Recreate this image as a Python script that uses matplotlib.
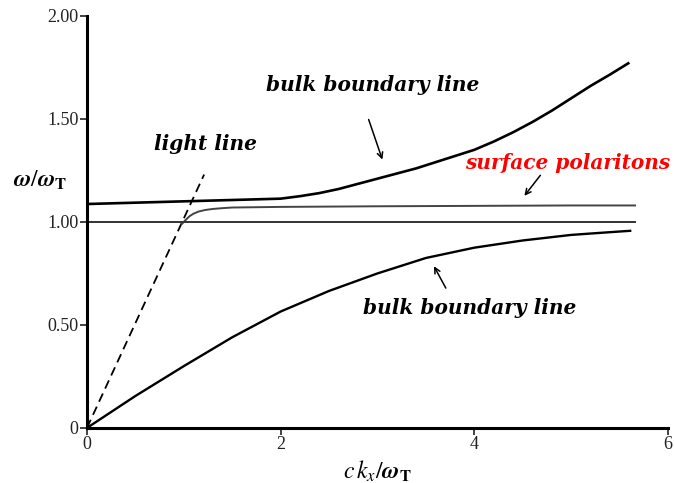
import matplotlib
matplotlib.use("Agg")
import matplotlib.pyplot as plt

plt.rcParams['mathtext.fontset'] = 'stix'
plt.rcParams['font.family'] = ['Liberation Serif', 'DejaVu Serif']

# data
light_k = [0.0, 1.21]
light_w = [0.0, 1.23]

upper_k = [0.0, 1.0, 2.0, 2.2, 2.4, 2.6, 2.8, 3.0, 3.2, 3.4, 3.6, 3.8, 4.0,
           4.2, 4.4, 4.6, 4.8, 5.0, 5.2, 5.4, 5.59]
upper_w = [1.087, 1.10, 1.113, 1.125, 1.14, 1.16, 1.185, 1.21, 1.235, 1.26, 1.29,
           1.32, 1.35, 1.39, 1.435, 1.485, 1.54, 1.60, 1.66, 1.715, 1.77]

lower_k = [0.0, 0.5, 1.0, 1.5, 2.0, 2.5, 3.0, 3.5, 4.0, 4.5, 5.0, 5.3, 5.61]
lower_w = [0.0, 0.155, 0.30, 0.44, 0.565, 0.665, 0.75, 0.825, 0.875, 0.91, 0.937, 0.947, 0.957]

surf_k = [0.98, 1.02, 1.06, 1.1, 1.15, 1.22, 1.3, 1.4, 1.5, 2.0, 3.0, 4.0, 5.0, 5.66]
surf_w = [0.99, 1.01, 1.028, 1.04, 1.05, 1.058, 1.063, 1.067, 1.07, 1.073, 1.076, 1.078, 1.08, 1.08]

wt_k = [0.0, 5.66]
wt_w = [1.0, 1.0]

x_ticks = [0, 2, 4, 6]
x_labels = ['0', '2', '4', '6']
y_ticks = [0, 0.5, 1.0, 1.5, 2.0]
y_labels = ['0', '0.50', '1.00', '1.50', '2.00']

fig = plt.figure(figsize=(6.74, 4.83), dpi=100)
ax = fig.add_axes([0.129, 0.114, 0.862, 0.853])

ax.plot(light_k, light_w, color='black', lw=1.3, ls=(0, (5, 3)))
ax.plot(upper_k, upper_w, color='black', lw=1.9)
ax.plot(lower_k, lower_w, color='black', lw=1.7)
ax.plot(surf_k, surf_w, color='#444444', lw=1.4)
ax.plot(wt_k, wt_w, color='#333333', lw=1.4)

ax.set_xlim(0, 6)
ax.set_ylim(0, 2.0)
ax.set_xticks(x_ticks)
ax.set_xticklabels(x_labels)
ax.set_yticks(y_ticks)
ax.set_yticklabels(y_labels)
ax.tick_params(labelsize=13, length=5, width=1.2, direction='out', pad=1, colors='#222222')
for s in ['top', 'right']:
    ax.spines[s].set_visible(False)
for s in ['left', 'bottom']:
    ax.spines[s].set_linewidth(2.2)

ax.set_xlabel(r'$c\,\boldsymbol{k_x}/\boldsymbol{\omega}_{\mathbf{T}}$', fontsize=17, labelpad=4)
fig.text(0.02, 0.627, r'$\boldsymbol{\omega}/\boldsymbol{\omega}_{\mathbf{T}}$', fontsize=17, va='center', ha='left')

tk = dict(fontsize=14.5, fontweight='bold', fontstyle='italic', ha='center', va='center',
          family=['DejaVu Serif'])
ax.text(2.95, 1.667, 'bulk boundary line', **tk)
ax.text(3.95, 0.58, 'bulk boundary line', **tk)
ax.text(1.22, 1.38, 'light line', **tk)
ax.text(4.96, 1.285, 'surface polaritons', color='red', **tk)

ap = dict(arrowstyle='->', color='black', lw=1.1)
ax.annotate('', xy=(3.06, 1.29), xytext=(2.9, 1.51), arrowprops=ap)
ax.annotate('', xy=(3.57, 0.797), xytext=(3.72, 0.667), arrowprops=ap)
ax.annotate('', xy=(4.50, 1.116), xytext=(4.70, 1.237), arrowprops=ap)

fig.savefig('out.png', dpi=100)
